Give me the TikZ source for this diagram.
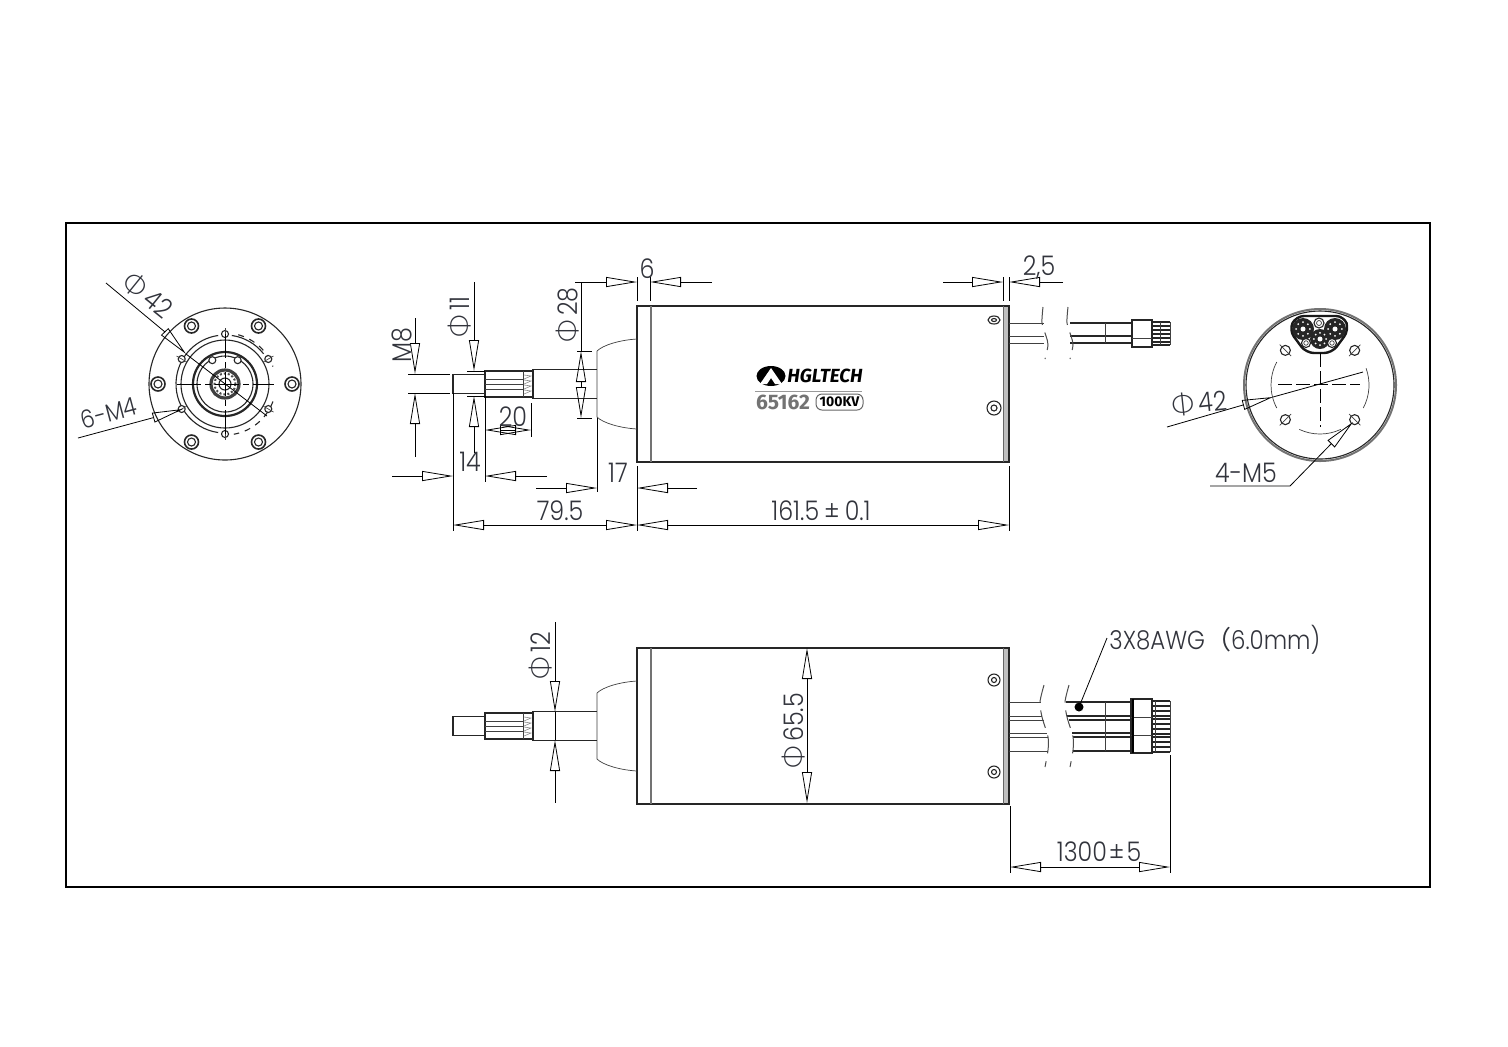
\documentclass[tikz,border=0pt]{standalone}
\usepackage{fontspec}
\setmainfont{Poppins Light}[FakeStretch=0.88]
\newfontfamily\phifont{Lato Light}
\newfontfamily\cjkfont{Noto Sans CJK SC}
\newfontfamily\logofont{Fira Sans}
\usetikzlibrary{arrows.meta}
\newcommand{\dia}{{\phifont\fontsize{14}{14}\selectfont Φ}\,}
\definecolor{inktext}{RGB}{50,52,60}
\begin{document}
\begin{tikzpicture}[
    x=0.5pt,y=-0.5pt,
    part/.style={line width=0.55pt,black!85},
    thin part/.style={line width=0.35pt,black!75},
    dimline/.style={line width=0.4pt,black},
    dimtip/.style={dimline,-{Triangle[open,length=15.5pt,width=5pt]}},
    brk/.style={line width=0.5pt,black!70,dash pattern=on 9pt off 4pt},
    dim/.style={text=inktext,font=\fontsize{13.5}{14}\selectfont,inner sep=0pt},
    motor/.pic={
        \fill[black!25] (1003,-78) rectangle (1009,78);
        \draw[part] (651,-78) -- (637,-78) -- (637,78) -- (651,78);
        \draw[part] (651,-78) -- (1009,-78) -- (1009,78) -- (651,78);
        \draw[line width=0.9pt,black!55] (651,-78) -- (651,78);
        \draw[line width=0.5pt,black!60] (1003,-78) -- (1003,78);
        \draw[thin part] (637,-45) .. controls (620,-44) and (603,-39) .. (597,-33) -- (597,33)
            .. controls (603,39) and (620,44) .. (637,45);
        \draw[part] (597,-14.5) -- (533,-14.5) -- (533,14.5) -- (597,14.5);
        \draw[part,line width=0.7pt] (533,-13) -- (485,-13) -- (485,13) -- (533,13);
        \draw[part] (485,-9.5) -- (453,-9.5) -- (453,9.5) -- (485,9.5);
        \foreach \sy in {-5,0,5}
            \draw[thin part] (485,\sy) -- (523,\sy);
        \draw[thin part] (523,-13) -- (523,13);
        \foreach \sy in {-9,-4,1,6}
            \draw[black!45,line width=0.3pt] (524,\sy) -- (531,\sy+1) -- (524,\sy+4);
    }
]
\useasboundingbox (0,0) rectangle (1508,1046);
\fill[white] (0,0) rectangle (1508,1046);
\draw[line width=0.9pt] (66,223) rectangle (1430,887);

% left end view
\coordinate (lc) at (225,384);
\draw[part] (lc) circle (76);
\foreach \a in {0,60,...,300} {
    \draw[part,line width=0.8pt] (lc) ++(\a:67) circle (7);
    \draw[part] (lc) ++(\a:67) circle (4);
}
\draw[part] (lc) ++(-82:49) arc (-82:-38:49);
\draw[part] (lc) ++(98:49) arc (98:262:49);
\draw[part,dashed] (lc) ++(-75:51) arc (-75:-20:51);
\draw[part,dashed] (lc) ++(20:51) arc (20:80:51);
\draw[part] (lc) circle (44);
\foreach \a in {30,90,150,210,270,330} {
    \draw[part,fill=white] (lc) ++(\a:50) circle (3.5);
    \draw[thin part] (lc) ++(\a:44) -- ++(\a:12);
}
\draw[line width=1.1pt,black!85] (lc) circle (32);
\draw[part] (lc) circle (28);
\foreach \a in {-62,-118}
    \draw[part,fill=white] (lc) ++(\a:27) circle (3.5);
\draw[line width=1.6pt,black!75] (lc) circle (14);
\draw[line width=1pt,black!70,densely dotted] (lc) circle (10.5);
\draw[part] (lc) circle (6);
\draw[dimline,dash pattern=on 12pt off 2pt on 3pt off 2pt] (177,384) -- (274,384);
\draw[dimline,dash pattern=on 12pt off 2pt on 3pt off 2pt] (225,334) -- (225,434);

\draw[dimline] (106,283) -- (165,332);
\draw[dimtip] (165,332) -- (186,354);
\draw[dimline] (186,354) -- (267,416);
\node[dim,rotate=-39] (phi42L) at (148,295) {\dia 42};
\draw[dimline] (78,438) -- (152,418);
\draw[dimtip] (152,418) -- (183,409);
\node[dim,rotate=15,font=\fontsize{12.5}{13}\selectfont] (m4L) at (109,413) {6-M4};

% side view with shaft
\pic at (0,384) {motor};
\draw[part,fill=white] (994,320) ellipse (6 and 4);
\draw[part] (994,320) ellipse (2.5 and 1.5);
\draw[part] (994,408) circle (7);
\draw[part] (994,408) circle (3);

\foreach \cy in {323,336,343} {
    \draw[thin part] (1009,\cy) -- (1044,\cy);
    \draw[part] (1070,\cy) -- (1131,\cy);
}
\foreach \dx in {0,25}
    \draw[brk] plot[smooth] coordinates {(1043+\dx,307) (1042+\dx,323) (1046+\dx,336) (1048+\dx,345) (1045+\dx,359)};
\draw[thin part] (1105,323) -- (1105,343);
\draw[part,line width=0.8pt] (1132,320) rectangle (1152,347);
\draw[thin part] (1132,338) -- (1152,338);
\foreach \py in {322,326,330,334,338,342,345}
    \draw[part] (1152,\py) -- (1170,\py);
\draw[thin part] (1170,322) -- (1170,345);
\draw[thin part] (1160,322) -- (1160,345);

% logo
\fill[black] (771,376) ellipse (14.5 and 10);
\fill[white] (771,368) -- (782,384) -- (775,384) -- (771,378) -- (767,384) -- (760,384) -- cycle;
\node[inner sep=0pt,font=\logofont\fontsize{9.5}{10}\selectfont\bfseries\itshape] (brand) at (825,376) {HGLTECH};
\draw[black!40,line width=0.5pt] (755,391) -- (862,391);
\node[inner sep=0pt,text=black!55,font=\logofont\fontsize{10.5}{11}\selectfont\bfseries] (model) at (783,402) {65162};
\node[draw=black!60,rounded corners=3pt,line width=0.5pt,minimum width=23.5pt,minimum height=8pt,inner sep=0pt,
    font=\logofont\fontsize{7}{7}\selectfont\bfseries] (kv) at (839.5,402) {100KV};

% dimensions of side view
\draw[dimline] (408,374) -- (450,374) (408,393) -- (450,393);
\draw[dimline] (415,318) -- (415,343);
\draw[dimtip] (415,343) -- (415,374);
\draw[dimline] (415,457) -- (415,425);
\draw[dimtip] (415,425) -- (415,393);
\node[dim,rotate=90] (m8) at (402,345) {M8};

\draw[dimline] (467,371) -- (485,371) (467,396) -- (485,396);
\draw[dimline] (474,282) -- (474,339);
\draw[dimtip] (474,339) -- (474,371);
\draw[dimline] (474,453) -- (474,428);
\draw[dimtip] (474,428) -- (474,396);
\node[dim,rotate=90] (phi11) at (460,317) {\dia 11};

\draw[dimline] (485,396) -- (485,482);
\draw[dimline] (531,403) -- (531,437);
\draw[dimtip] (508,430) -- (485,430);
\draw[dimtip] (508,430) -- (531,430);
\node[dim] (len20) at (513,417) {20};

\draw[dimline] (453,393) -- (453,531);
\draw[dimline] (392,476) -- (422,476);
\draw[dimtip] (422,476) -- (453,476);
\draw[dimline] (547,476) -- (516,476);
\draw[dimtip] (516,476) -- (485,476);
\node[dim] (len14) at (470,462) {14};

\draw[dimline] (597,418) -- (597,492);
\draw[dimline] (637,466) -- (637,531);
\draw[dimline] (536,488) -- (566,488);
\draw[dimtip] (566,488) -- (597,488);
\draw[dimline] (697,488) -- (668,488);
\draw[dimtip] (668,488) -- (637,488);
\node[dim] (len17) at (618,473) {17};

\draw[dimline] (484,525) -- (606,525);
\draw[dimtip] (484,525) -- (453,525);
\draw[dimtip] (606,525) -- (637,525);
\node[dim] (len795) at (560,511) {79.5};

\draw[dimline] (1009,466) -- (1009,531);
\draw[dimline] (668,525) -- (978,525);
\draw[dimtip] (668,525) -- (637,525);
\draw[dimtip] (978,525) -- (1009,525);
\node[dim] (len1615) at (821,511) {161.5\kern2.5pt±\kern2.5pt0.1};

\draw[dimline] (577,351) -- (592,351) (577,418) -- (592,418);
\draw[dimline] (581,282) -- (581,351);
\draw[dimtip] (581,385) -- (581,351);
\draw[dimtip] (581,385) -- (581,418);
\node[dim,rotate=90] (phi28) at (568,315) {\dia 28};

\draw[dimline] (637,277) -- (637,301) (650,277) -- (650,301);
\draw[dimline] (575,282) -- (606,282);
\draw[dimtip] (606,282) -- (637,282);
\draw[dimline] (712,282) -- (681,282);
\draw[dimtip] (681,282) -- (650,282);
\node[dim] (len6) at (647,269) {6};

\draw[dimline] (1003,277) -- (1003,301) (1009,277) -- (1009,301);
\draw[dimline] (943,282) -- (973,282);
\draw[dimtip] (973,282) -- (1003,282);
\draw[dimline] (1063,282) -- (1040,282);
\draw[dimtip] (1040,282) -- (1009,282);
\node[dim] (len25) at (1039,268) {2,5};

% right end view
\coordinate (rc) at (1320,385);
\draw[line width=1pt,black!55] (rc) circle (76);
\draw[part] (rc) circle (74);
\draw[thin part] (rc) ++(152:49) arc (152:208:49);
\draw[thin part] (rc) ++(65:49) arc (65:115:49);
\draw[thin part] (rc) ++(-20:49) arc (-20:28:49);
\foreach \a in {45,135,225,315} {
    \draw[part] (rc) ++(\a:49) circle (5);
    \draw[thin part] (rc) ++(\a:41) -- ++(\a:16);
}
\draw[line width=1.2pt,black!90,rounded corners=4pt] (1289,330) -- (1296,316) -- (1344,316) -- (1349,330) -- (1332,353) -- (1306,353) -- cycle;
\foreach \hx/\hy/\hr in {1303/329/11,1335/329/11,1320/339/10} {
    \fill[black!85] (\hx,\hy) circle (\hr);
    \foreach \a in {0,45,...,315}
        \fill[white] (\hx,\hy) ++(\a:\hr*0.62) circle (1);
    \fill[white] (\hx,\hy) circle (2.5);
}
\foreach \hx/\hy/\hr in {1319/323/5,1306/343/4.5,1332/343/4.5} {
    \draw[part,fill=white] (\hx,\hy) circle (\hr);
    \draw[thin part] (\hx,\hy) circle (\hr/2);
}
\draw[dimline,dash pattern=on 7pt off 2pt] (1278,384) -- (1360,384);
\draw[dimline,dash pattern=on 7pt off 2pt] (1320,353) -- (1320,427);

\draw[dimline] (1167,427) -- (1243,405);
\draw[dimtip] (1243,405) -- (1273,397);
\draw[dimline] (1273,397) -- (1363,372);
\node[dim,rotate=6] (phi42R) at (1199,403) {\dia 42};
\draw[dimline] (1210,486) -- (1290,486) -- (1330,445);
\draw[dimtip] (1330,445) -- (1353,422);
\node[dim] (m5R) at (1246,473) {4-M5};

% lower view with cables
\pic at (0,726) {motor};
\draw[part] (994,680) circle (6);
\draw[part] (994,680) circle (2.5);
\draw[part] (994,772) circle (6);
\draw[part] (994,772) circle (2.5);

\foreach \cy/\lx/\rx in {702/1041/1066,716/1042/1067,720/1044/1069,733/1047/1072,737/1048/1073,751/1048/1073} {
    \draw[thin part] (1009,\cy) -- (\lx,\cy);
    \draw[part] (\rx,\cy) -- (1131,\cy);
}
\foreach \dx in {0,25}
    \draw[brk] plot[smooth] coordinates {(1044+\dx,685) (1040+\dx,702) (1042+\dx,717) (1048+\dx,737) (1048+\dx,750) (1045+\dx,767)};
\draw[thin part] (1105,702) -- (1105,751);
\draw[part,line width=0.8pt] (1131,699) rectangle (1152,753);
\draw[thin part] (1131,717) -- (1152,717) (1131,735) -- (1152,735);
\draw[line width=1.2pt] (1133,699) -- (1133,753);
\foreach \py in {701,706,711,716,719,724,729,734,737,742,747,752}
    \draw[part] (1152,\py) -- (1170,\py);
\draw[thin part] (1170,701) -- (1170,752);
\draw[thin part] (1155,701) -- (1155,752);

\fill[black] (1079,707) circle (4.5);
\draw[dimline] (1079,707) -- (1107,638);
\node[dim,anchor=west,font=\fontsize{13}{14}\selectfont] (awg) at (1109,640) {3X8AWG{\cjkfont （}6.0mm)};

\draw[dimline] (555,622) -- (555,680) (555,772) -- (555,803);
\draw[dimtip] (555,680) -- (555,712);
\draw[dimtip] (555,772) -- (555,740);
\draw[dimline] (555,712) -- (555,740);
\node[dim,rotate=90] (phi12) at (541,656) {\dia 12};

\draw[dimtip] (807,682) -- (807,648);
\draw[dimtip] (807,769) -- (807,803);
\draw[dimline] (807,682) -- (807,769);
\node[dim,rotate=90] (phi655) at (794,731) {\dia 65.5};

\draw[dimline] (1010,806) -- (1010,873) (1170,755) -- (1170,873);
\draw[dimline] (1041,867) -- (1139,867);
\draw[dimtip] (1041,867) -- (1010,867);
\draw[dimtip] (1139,867) -- (1170,867);
\node[dim] (len1300) at (1099,852) {1300\kern1pt±\kern1pt5};
\end{tikzpicture}
\end{document}
